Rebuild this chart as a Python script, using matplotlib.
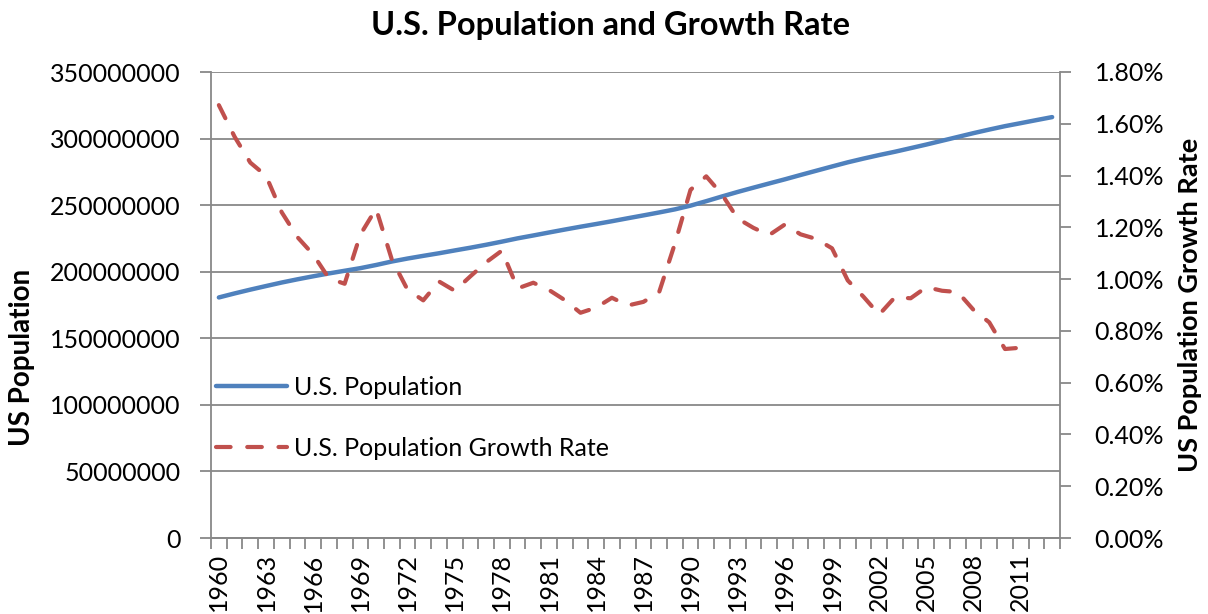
import matplotlib
matplotlib.use("Agg")
import matplotlib.pyplot as plt
from matplotlib.ticker import FuncFormatter, MultipleLocator, FixedLocator

plt.rcParams['font.family'] = ['Lato', 'DejaVu Sans']

years = list(range(1960, 2014))
population = [
    180671000, 183691000, 186538000, 189242000, 191889000, 194303000,
    196560000, 198712000, 200706000, 202677000, 205052000, 207661000,
    209896000, 211909000, 213854000, 215973000, 218035000, 220239000,
    222585000, 225055000, 227225000, 229466000, 231664000, 233792000,
    235825000, 237924000, 240133000, 242289000, 244499000, 246819000,
    249623000, 252981000, 256514000, 259919000, 263126000, 266278000,
    269394000, 272657000, 275854000, 279040000, 282162411, 284968955,
    287625193, 290107933, 292805298, 295516599, 298379912, 301231207,
    304093966, 306771529, 309326295, 311582564, 313873685, 316128839,
]
# growth rate in percent, 1960..2011
growth_rate = [
    1.672, 1.550, 1.450, 1.399, 1.258, 1.162, 1.095, 1.003, 0.982, 1.172,
    1.272, 1.076, 0.959, 0.918, 0.991, 0.955, 1.011, 1.065, 1.110, 0.964,
    0.986, 0.958, 0.919, 0.870, 0.890, 0.928, 0.898, 0.912, 0.949, 1.136,
    1.345, 1.397, 1.327, 1.234, 1.198, 1.170, 1.211, 1.173, 1.155, 1.119,
    0.995, 0.932, 0.863, 0.930, 0.926, 0.969, 0.955, 0.950, 0.881, 0.833,
    0.730, 0.735,
]
label_years = list(range(1960, 2012, 3))

title = "U.S. Population and Growth Rate"
left_label = "US Population"
right_label = "US Population Growth Rate"
pop_name = "U.S. Population"
rate_name = "U.S. Population Growth Rate"

BLUE = "#4F81BD"
RED = "#C0504D"
GRID = "#888888"
FS = 18

fig = plt.figure(figsize=(12.08, 6.14), dpi=100)
ax = fig.add_axes([211/1208, 1-538/614, (1060-211)/1208, (538-72)/614])
ax2 = ax.twinx()

x_pop = list(range(len(population)))
x_rate = list(range(len(growth_rate)))

l1, = ax.plot(x_pop, population, color=BLUE, lw=3.2, solid_capstyle='round', zorder=3)
l2, = ax2.plot(x_rate, growth_rate, color=RED, lw=3.0, dash_capstyle='round',
               dashes=(3.5, 4.0), zorder=3)

ax.set_xlim(-0.5, len(years) - 0.5)
ax.set_ylim(0, 350000000)
ax2.set_ylim(0, 1.8)

ax.yaxis.set_major_locator(MultipleLocator(50000000))
ax.yaxis.set_major_formatter(FuncFormatter(lambda v, p: f"{int(v)}"))
ax2.yaxis.set_major_locator(MultipleLocator(0.2))
ax2.yaxis.set_major_formatter(FuncFormatter(lambda v, p: f"{v:.2f}%"))

ax.xaxis.set_major_locator(FixedLocator([years.index(y) for y in label_years]))
ax.set_xticklabels([str(y) for y in label_years], rotation=90, fontsize=FS)
ax.xaxis.set_minor_locator(FixedLocator([i - 0.5 for i in range(len(years) + 1)]))
ax.tick_params(axis='x', which='major', length=0, pad=11)
ax.tick_params(axis='x', which='minor', length=8, width=1.3, color=GRID, direction='out')
for lab in ax.get_xticklabels():
    lab.set_verticalalignment('top')

ax.tick_params(axis='y', length=8, width=1.3, color=GRID, labelsize=FS, pad=14)
ax2.tick_params(axis='y', length=8, width=1.3, color=GRID, labelsize=FS, pad=17)

ax.grid(axis='y', color=GRID, lw=1.3)
ax.set_axisbelow(True)
for a in (ax, ax2):
    a.spines['top'].set_visible(False)
    for s in ('left', 'right', 'bottom'):
        a.spines[s].set_color(GRID)
        a.spines[s].set_linewidth(1.3)
ax2.spines['left'].set_visible(False)
ax.spines['right'].set_visible(False)

fig.text(611/1208, 1-25/614, title, ha='center', va='center', fontsize=23.5, fontweight='bold')
fig.text(22/1208, 1-357/614, left_label, ha='center', va='center', rotation=90,
         fontsize=20, fontweight='bold')
fig.text(1190/1208, 1-305/614, right_label, ha='center', va='center', rotation=90,
         fontsize=19.5, fontweight='bold')

leg = ax.legend([l1, l2], [pop_name, rate_name], loc='upper left',
                bbox_to_anchor=(0.0, 0.358), frameon=False, fontsize=FS,
                handlelength=2.84, handletextpad=0.3, labelspacing=1.5,
                borderaxespad=0.0, borderpad=0.2)

fig.savefig("out.png", dpi=100)
